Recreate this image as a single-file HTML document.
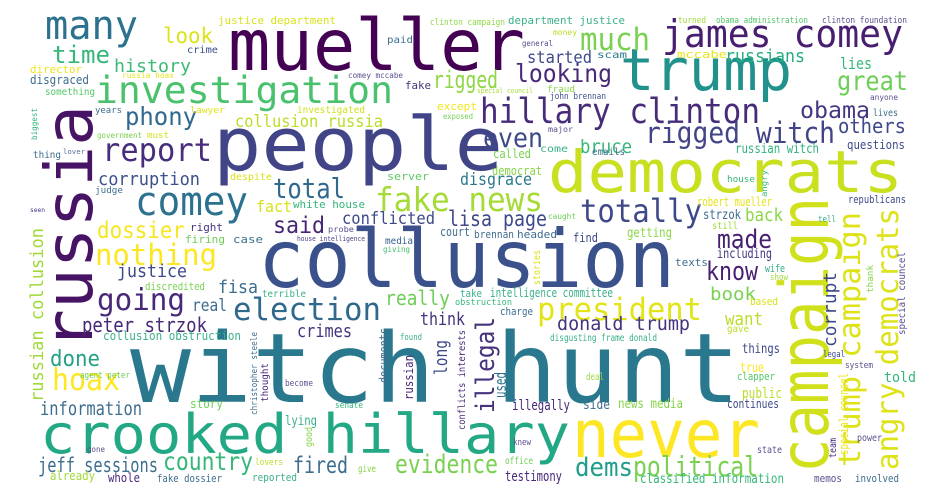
<!DOCTYPE html>
<html><head><meta charset="utf-8"><title>Word cloud</title>
<style>
html,body{margin:0;padding:0;background:#fff;}
svg{display:block;}
text{font-family:"DejaVu Sans Mono","Liberation Mono",monospace;}
</style></head>
<body>
<svg id="cloud" width="940" height="500" viewBox="0 0 940 500">
<rect width="940" height="500" fill="#ffffff"/>
</svg>
<script>
// words: [text, x, baselineY, fontSize, width(0=auto), color, vertical]
const words = [
["mueller",228,70,71,297,"#440154",0],
["people",213,170,74,290,"#414487",0],
["collusion",258,287,80,417,"#3b518b",0],
["witch hunt",130,402,96,610,"#2a788e",0],
["crooked hillary",40,453,54,530,"#22a884",0],
["never",572,457,66,188,"#fde725",0],
["democrats",548,192,58,355,"#c8e020",0],
["trump",620,90,58,172,"#21918c",0],
["james comey",662,47,38,241,"#481f70",0],
["hillary clinton",480,123,35,280,"#472c7a",0],
["investigation",95,103,37,298,"#4ac16d",0],
["russia",92,350,66,245,"#471365",1],
["campaign",828,473,68,276,"#d0e11c",1],
["trump campaign",860,467,30,255,"#dde318",1],
["angry democrats",898,470,30,262,"#dde318",1],
["many",45,39,40,93,"#2c728e",0],
["comey",135,215,40,113,"#2c728e",0],
["report",102,161,32,110,"#472d7b",0],
["fake news",375,211,33,168,"#a5db36",0],
["totally",580,222,32,122,"#3e4989",0],
["president",537,320,31,165,"#e2e418",0],
["rigged witch",645,143,29,190,"#414487",0],
["much",580,50,31,70,"#7ad151",0],
["looking",515,82,25,97,"#482878",0],
["great",837,90,27,71,"#6ece58",0],
["obama",800,118,23,70,"#453781",0],
["others",838,133,20,68,"#3e4989",0],
["even",483,147,27,60,"#3e4989",0],
["phony",125,125,25,72,"#31688e",0],
["time",52,63,24,58,"#35b779",0],
["look",163,43,21,50,"#dde318",0],
["history",114,72,18,77,"#3bbb75",0],
["collusion russia",235,127,17,148,"#bade28",0],
["corruption",98,185,18,102,"#3b528b",0],
["total",273,198,28,72,"#31688e",0],
["dossier",97,238,23,88,"#f6e620",0],
["said",273,233,23,52,"#482475",0],
["conflicted",342,224,17,93,"#3e4989",0],
["lisa page",448,226,21,99,"#3e4989",0],
["fact",256,212,16,36,"#d8e219",0],
["white house",293,208,11,72,"#34b679",0],
["rigged",433,88,24,65,"#8fd744",0],
["nothing",95,265,29,122,"#fde725",0],
["justice",117,277,18,70,"#3e4989",0],
["discredited",145,290,11,60,"#7ad151",0],
["fisa",218,293,18,40,"#3e6e8e",0],
["going",97,310,30,88,"#482878",0],
["election",233,320,31,148,"#31688e",0],
["real",192,311,17,35,"#3e6e8e",0],
["really",385,305,20,65,"#6ece58",0],
["think",420,325,18,45,"#46337e",0],
["peter strzok",82,332,20,125,"#482878",0],
["collusion obstruction",103,340,12,138,"#3bb08a",0],
["crimes",297,337,18,55,"#46337e",0],
["russian collusion",43,402,18,174,"#a0da39",1],
["done",50,366,22,50,"#26a084",0],
["hoax",52,390,30,68,"#fde725",0],
["information",40,415,19,102,"#3e6e8e",0],
["jeff sessions",38,472,20,120,"#3e6e8e",0],
["country",163,470,25,90,"#35b779",0],
["fired",293,473,23,55,"#3e6e8e",0],
["evidence",395,473,26,103,"#7ad151",0],
["dems",575,476,26,58,"#1f9e89",0],
["political",633,476,28,125,"#7ad151",0],
["illegal",494,413,26,96,"#46337e",1],
["used",506,398,16,26,"#2c728e",1],
["donald trump",557,330,19,133,"#46337e",0],
["know",706,280,26,52,"#481f70",0],
["made",717,248,26,55,"#481f70",0],
["corrupt",836,347,18,75,"#3e4989",1],
["bruce",580,153,19,52,"#35b779",0],
["started",527,63,17,65,"#3e4989",0],
["russians",725,62,18,80,"#27ad81",0],
["lies",840,69,16,32,"#35b779",0],
["disgrace",460,185,17,72,"#2a788e",0],
["back",745,221,18,38,"#8bd646",0],
["book",710,300,18,46,"#7ad151",0],
["want",725,325,18,38,"#b8de29",0],
["long",447,375,18,35,"#3e4989",1],
["justice department",218,24,11,118,"#d8e219",0],
["department justice",508,24,11,117,"#3bb08a",0],
["clinton campaign",430,25,9,75,"#8fd744",0],
["turned",678,23,9,28,"#a0da39",0],
["obama administration",716,23,9,92,"#52c569",0],
["clinton foundation",822,23,9,85,"#5b4f8f",0],
["money",553,35,8,24,"#b8de29",0],
["general",522,46,8,31,"#5b4f8f",0],
["paid",387,43,10,26,"#3e6e8e",0],
["crime",187,53,10,31,"#3d4e8a",0],
["scam",597,58,10,30,"#2a788e",0],
["mccabe",677,58,11,50,"#e7e419",0],
["director",30,73,11,52,"#f1e51d",0],
["disgraced",30,84,12,59,"#3e6e8e",0],
["something",45,95,10,50,"#55c667",0],
["russia hoax",122,78,8,52,"#e5e419",0],
["comey mccabe",348,78,8,55,"#5b4f8f",0],
["fake",405,89,11,26,"#46337e",0],
["except",437,110,11,40,"#f0e51c",0],
["special council",477,93,7,56,"#a8db34",0],
["fraud",547,92,9,28,"#8bd646",0],
["john brennan",550,99,9,56,"#3b528b",0],
["anyone",870,100,8,28,"#5b4f8f",0],
["years",95,113,9,27,"#3e6e8e",0],
["lawyer",190,113,9,35,"#e2e418",0],
["investigated",297,113,10,68,"#d1e21b",0],
["exposed",443,119,8,30,"#75d054",0],
["lives",873,116,10,25,"#3e6e8e",0],
["major",548,132,8,25,"#5b4f8f",0],
["biggest",37,140,8,32,"#2fb47c",1],
["government",97,138,8,45,"#7ad151",0],
["must",147,138,9,22,"#d3e21a",0],
["thing",33,158,10,28,"#3e6e8e",0],
["lover",63,154,7,22,"#5b6f9a",0],
["questions",847,149,12,58,"#3e4989",0],
["called",493,158,12,38,"#7ad151",0],
["come",540,152,10,28,"#3bb08a",0],
["emails",592,155,10,33,"#3e6e8e",0],
["russian witch",735,153,13,84,"#2fb47c",0],
["democrat",492,175,12,50,"#86d549",0],
["despite",230,180,10,42,"#d8e219",0],
["server",387,180,11,42,"#5ec962",0],
["house",727,182,9,28,"#35b779",0],
["angry",767,197,8,27,"#35b779",1],
["judge",95,193,9,28,"#3e6e8e",0],
["seen",30,212,6,15,"#46337e",0],
["robert mueller",697,206,12,75,"#e5e419",0],
["republicans",848,203,11,58,"#3e4989",0],
["strzok",703,219,13,38,"#3e6e8e",0],
["caught",548,219,8,28,"#6ece58",0],
["tell",818,222,9,18,"#3bb08a",0],
["still",712,229,10,26,"#a0da39",0],
["right",190,231,11,33,"#46337e",0],
["probe",328,232,8,26,"#5b4f8f",0],
["court",440,236,12,30,"#3e6e8e",0],
["getting",627,237,13,45,"#8bd646",0],
["brennan",474,238,11,40,"#3e6e8e",0],
["headed",517,238,11,40,"#3e6e8e",0],
["find",573,242,12,25,"#3e4989",0],
["house intelligence",297,241,7,68,"#4e4187",0],
["firing",185,243,11,40,"#6ece58",0],
["case",233,243,11,30,"#3e6e8e",0],
["media",385,244,10,28,"#33638d",0],
["giving",383,252,8,27,"#44bf70",0],
["including",717,258,13,55,"#46337e",0],
["stories",540,285,10,35,"#d8e219",1],
["texts",675,266,11,33,"#3e6e8e",0],
["wife",765,272,11,20,"#3bb08a",0],
["show",770,280,9,18,"#a0da39",0],
["thank",873,293,9,28,"#86d549",1],
["special councel",905,335,10,83,"#5b4f8f",1],
["terrible",262,297,10,44,"#3bb08a",0],
["take",460,297,11,22,"#3bb08a",0],
["intelligence committee",490,297,12,123,"#3bb08a",0],
["obstruction",455,305,9,57,"#35b779",0],
["based",750,305,11,28,"#d8e219",0],
["charge",500,315,11,33,"#3e6e8e",0],
["gave",727,332,10,22,"#b8de29",0],
["christopher steele",257,415,9,83,"#3e6e8e",1],
["documents",388,383,12,55,"#3e6e8e",1],
["found",400,340,9,22,"#3bb08a",0],
["disgusting frame donald",550,341,10,107,"#3bb08a",0],
["things",742,353,13,38,"#3e4989",0],
["legal",823,357,9,22,"#3e4989",0],
["russian",413,400,12,45,"#482878",1],
["thought",268,402,10,39,"#482878",1],
["conflicts interests",465,430,10,100,"#482878",1],
["system",845,368,9,28,"#5b4f8f",0],
["true",740,372,13,24,"#fde725",0],
["agent peter",80,378,9,50,"#6ece58",0],
["deal",586,380,10,18,"#a0da39",0],
["clapper",737,380,11,38,"#52c569",0],
["told",884,382,14,32,"#35b779",0],
["become",285,386,9,28,"#5b4f8f",0],
["public",742,398,14,40,"#b8de29",0],
["story",190,408,12,33,"#6ece58",0],
["senate",335,408,9,28,"#35b779",0],
["illegally",512,410,14,58,"#482878",0],
["side",583,409,13,27,"#3e6e8e",0],
["news media",618,408,13,65,"#86d549",0],
["continues",727,408,12,52,"#3e4989",0],
["special counsel",848,455,12,82,"#eee51c",1],
["lying",285,425,13,32,"#3bb08a",0],
["team",836,458,10,20,"#482878",1],
["good",312,447,10,20,"#86d549",1],
["knew",513,445,9,18,"#5b4f8f",0],
["power",857,441,10,25,"#5b4f8f",0],
["gone",87,452,8,18,"#5b4f8f",0],
["state",757,453,10,25,"#5b4f8f",0],
["office",505,464,10,28,"#6ece58",0],
["lovers",255,465,9,28,"#b8de29",0],
["give",358,472,10,18,"#86d549",0],
["already",50,480,12,45,"#a0da39",0],
["whole",108,482,12,32,"#482878",0],
["fake dossier",157,482,11,65,"#3e6e8e",0],
["reported",252,481,11,45,"#3bb08a",0],
["testimony",505,481,14,57,"#482878",0],
["classified information",640,483,13,144,"#35b779",0],
["memos",814,482,11,28,"#5b4f8f",0],
["involved",855,482,11,44,"#3e6e8e",0]
];
const svg = document.getElementById('cloud');
const NS = 'http://www.w3.org/2000/svg';
for (const w of words) {
  const t = document.createElementNS(NS, 'text');
  t.textContent = w[0];
  t.setAttribute('x', w[1]);
  t.setAttribute('y', w[2]);
  t.setAttribute('font-size', w[3]);
  if (w[4] > 0) {
    t.setAttribute('textLength', w[4]);
    t.setAttribute('lengthAdjust', 'spacingAndGlyphs');
  }
  t.setAttribute('fill', w[5]);
  if (w[6]) t.setAttribute('transform', 'rotate(-90 ' + w[1] + ' ' + w[2] + ')');
  
  
  svg.appendChild(t);
}
</script>
</body></html>
